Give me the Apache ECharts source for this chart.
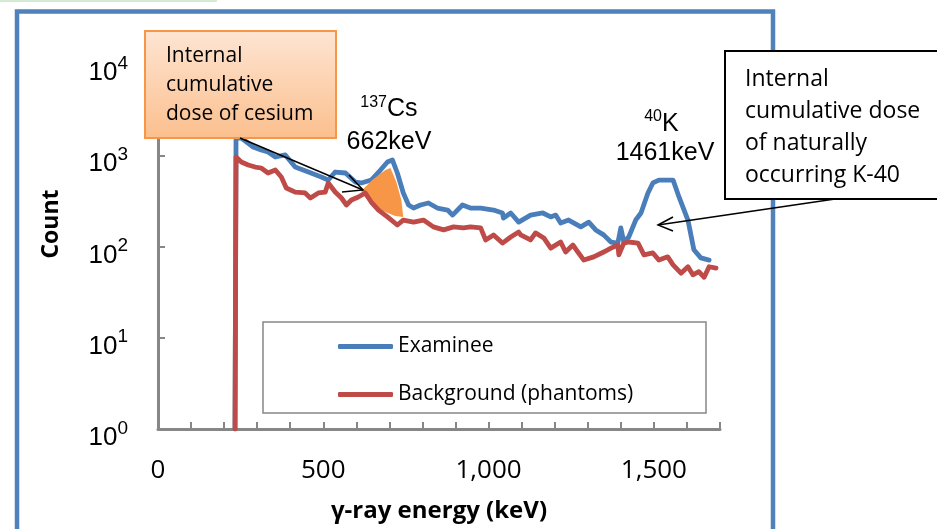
<!DOCTYPE html>
<html>
<head>
<meta charset="utf-8">
<script src="https://cdn.jsdelivr.net/npm/echarts@6/dist/echarts.min.js"></script>
<style>
html,body{margin:0;padding:0;background:#ffffff;}
#chart{width:937px;height:529px;}
</style>
</head>
<body>
<div id="chart"></div>
<script>
// ---- data ----
const examineeEnergy = [233,236,252,288,312,333,355,385,415,455,494,515,536,567,597,615,645,673,694,709,724,742,758,773,794,818,845,876,891,921,945,976,1015,1042,1045,1067,1091,1127,1164,1188,1203,1218,1242,1279,1303,1324,1348,1370,1391,1400,1409,1424,1445,1461,1482,1497,1515,1558,1576,1603,1621,1642,1667];
const examineeCount = [1,1545,1545,1231,1142,1086,957,1007,743,655,578,535,655,639,509,497,535,689,843,888,639,386,285,264,285,300,264,251,221,285,264,264,251,233,205,233,185,221,233,211,221,181,195,164,185,152,134,112,109,160,112,127,195,233,386,497,535,535,349,195,92,75,71];

const backgroundEnergy = [233,236,252,273,294,312,333,355,373,388,415,445,461,485,506,515,536,555,570,585,606,627,645,667,694,724,742,773,803,833,864,894,924,945,976,991,1015,1042,1067,1091,1097,1127,1142,1167,1188,1218,1233,1255,1270,1288,1318,1348,1370,1391,1394,1409,1424,1452,1470,1497,1515,1542,1558,1582,1603,1618,1636,1652,1667,1688];
const backgroundCount = [1,957,843,782,743,725,639,689,578,438,395,386,340,386,395,497,395,340,285,323,349,386,307,251,211,172,195,185,195,164,152,164,160,164,160,118,134,109,127,144,134,118,141,124,96,112,87,104,87,71,77,87,96,104,81,109,112,109,81,85,71,77,63,51,60,49,53,46,60,58];

// shaded cesium peak region (outline: upper edge then lower edge)
const cesiumFillEnergy = [615,648,688,703,721,736,742,718,688,658,636,618];
const cesiumFillCount  = [406,535,689,725,509,323,211,216,239,271,323,376];

const seriesNames = ['Examinee', 'Background (phantoms)'];
const xTickValues = [0, 500, 1000, 1500];
const xTickLabels = ['0', '500', '1,000', '1,500'];
const yTickExponents = ['0', '1', '2', '3', '4'];

// ---- chart ----
const zip = (a, b) => a.map((v, i) => [v, b[i]]);
const BLUE = '#4a7ebb';
const RED = '#be4b48';
const AXIS = '#878787';
const SANS = '"Open Sans", "Liberation Sans", sans-serif';
const ARIAL = '"Liberation Sans", Arial, sans-serif';

const chart = echarts.init(document.getElementById('chart'), null, {renderer: 'canvas'});

function txt(text, x, y, font, align, vAlign, rotation) {
  return {
    type: 'text',
    x: x, y: y,
    rotation: rotation || 0,
    style: {
      text: text, x: 0, y: 0, font: font, fill: '#000',
      align: align, verticalAlign: vAlign,
      textAlign: align, textVerticalAlign: vAlign
    },
    z: 100
  };
}

const option = {
  animation: false,
  backgroundColor: '#ffffff',
  grid: {left: 158, right: 217, top: 64, bottom: 100, containLabel: false},
  legend: {
    data: seriesNames,
    orient: 'vertical',
    left: 338,
    top: 336,
    padding: 0,
    itemWidth: 55,
    itemHeight: 5,
    itemGap: 27,
    icon: 'roundRect',
    textStyle: {fontFamily: SANS, fontSize: 21, color: '#000', padding: [0, 0, 0, 0]},
    z: 10
  },
  xAxis: {
    type: 'value',
    min: 0,
    max: 1700,
    interval: 100,
    name: 'γ-ray energy (keV)',
    nameLocation: 'middle',
    nameGap: 70,
    nameTextStyle: {fontFamily: SANS, fontWeight: 'bold', fontSize: 24, color: '#000'},
    splitLine: {show: false},
    axisLine: {lineStyle: {color: AXIS, width: 3}},
    axisTick: {inside: true, length: 7, lineStyle: {color: AXIS, width: 2}},
    axisLabel: {
      interval: 0,
      margin: 29,
      fontFamily: SANS,
      fontSize: 26,
      color: '#000',
      formatter: function (v) {
        const i = xTickValues.indexOf(v);
        return i >= 0 ? xTickLabels[i] : '';
      }
    }
  },
  yAxis: {
    type: 'log',
    logBase: 10,
    min: 1,
    max: 10000,
    splitLine: {show: false},
    axisLine: {lineStyle: {color: AXIS, width: 3}},
    axisTick: {inside: true, length: 7, lineStyle: {color: AXIS, width: 2}},
    axisLabel: {
      margin: 30,
      fontFamily: ARIAL,
      fontSize: 26,
      color: '#000',
      formatter: function (v) {
        const e = Math.round(Math.log10(v));
        return '{b|10}{s|' + yTickExponents[e] + '}';
      },
      rich: {
        b: {fontFamily: ARIAL, fontSize: 26, color: '#000', lineHeight: 26, verticalAlign: 'top', padding: [9, 0, 7, 0]},
        s: {fontFamily: ARIAL, fontSize: 19, color: '#000', lineHeight: 19, verticalAlign: 'top', padding: [3, 0, 0, 0]}
      }
    }
  },
  series: [
    {
      name: seriesNames[0],
      type: 'line',
      data: zip(examineeEnergy, examineeCount),
      showSymbol: false,
      symbol: 'none',
      color: BLUE,
      lineStyle: {color: BLUE, width: 4.8, join: 'round', cap: 'round'},
      z: 2
    },
    {
      name: 'cesium-fill',
      type: 'custom',
      data: zip(cesiumFillEnergy, cesiumFillCount),
      z: 2.5,
      silent: true,
      renderItem: function (params, api) {
        if (params.dataIndex !== 0) return;
        const pts = cesiumFillEnergy.map((e, i) => api.coord([e, cesiumFillCount[i]]));
        return {type: 'polygon', shape: {points: pts}, style: {fill: '#f79646', stroke: null}};
      }
    },
    {
      name: seriesNames[1],
      type: 'line',
      data: zip(backgroundEnergy, backgroundCount),
      showSymbol: false,
      symbol: 'none',
      color: RED,
      lineStyle: {color: RED, width: 4.8, join: 'round', cap: 'round'},
      z: 3
    }
  ],
  graphic: [
    // faint strip at top-left and outer blue frame
    {type: 'rect', shape: {x: 0, y: 0, width: 217, height: 2}, style: {fill: '#d5ead5'}, z: 1},
    {type: 'rect', shape: {x: 17, y: 11.5, width: 756, height: 600}, style: {fill: null, stroke: '#4f81bd', lineWidth: 4.5}, z: 1},
    // legend frame
    {type: 'rect', shape: {x: 263, y: 322, width: 443, height: 91}, style: {fill: '#fff', stroke: AXIS, lineWidth: 1.5}, z: 3},
    // y axis title
    txt('Count', 51, 224, 'bold 23px ' + SANS, 'center', 'middle', Math.PI / 2),
    // cesium callout box
    {type: 'rect', shape: {x: 145, y: 31, width: 191, height: 107},
      style: {fill: {type: 'linear', x: 0, y: 0, x2: 0, y2: 1, colorStops: [{offset: 0, color: '#fee5d3'}, {offset: 1, color: '#fbbf8d'}]},
        stroke: '#f79646', lineWidth: 2}, z: 99},
    txt('Internal', 166, 56, '21px ' + SANS, 'left', 'middle'),
    txt('cumulative', 166, 85, '21px ' + SANS, 'left', 'middle'),
    txt('dose of cesium', 166, 114, '21px ' + SANS, 'left', 'middle'),
    {type: 'line', shape: {x1: 240, y1: 138, x2: 363, y2: 190}, style: {stroke: '#000', lineWidth: 1.5}, z: 100},
    {type: 'polyline', shape: {points: [[349, 175], [363, 190], [342, 192]]}, style: {stroke: '#000', fill: null, lineWidth: 1.5}, z: 100},
    // isotope labels
    txt('137', 387, 103, '16px ' + ARIAL, 'right', 'middle'),
    txt('Cs', 387, 109, '25px ' + ARIAL, 'left', 'middle'),
    txt('662keV', 389, 142, '25px ' + ARIAL, 'center', 'middle'),
    txt('40', 662, 117, '16px ' + ARIAL, 'right', 'middle'),
    txt('K', 662, 124, '25px ' + ARIAL, 'left', 'middle'),
    txt('1461keV', 665, 153, '25px ' + ARIAL, 'center', 'middle'),
    // potassium callout box
    {type: 'rect', shape: {x: 725, y: 51, width: 240, height: 148}, style: {fill: '#fff', stroke: '#000', lineWidth: 2}, z: 99},
    txt('Internal', 745, 79, '23px ' + SANS, 'left', 'middle'),
    txt('cumulative dose', 745, 111, '23px ' + SANS, 'left', 'middle'),
    txt('of naturally', 745, 143, '23px ' + SANS, 'left', 'middle'),
    txt('occurring K-40', 745, 175, '23px ' + SANS, 'left', 'middle'),
    {type: 'line', shape: {x1: 835, y1: 199, x2: 658, y2: 225}, style: {stroke: '#000', lineWidth: 1.5}, z: 100},
    {type: 'polyline', shape: {points: [[673, 217], [658, 225], [673, 231]]}, style: {stroke: '#000', fill: null, lineWidth: 1.5}, z: 100}
  ]
};

chart.setOption(option);
</script>
</body>
</html>
